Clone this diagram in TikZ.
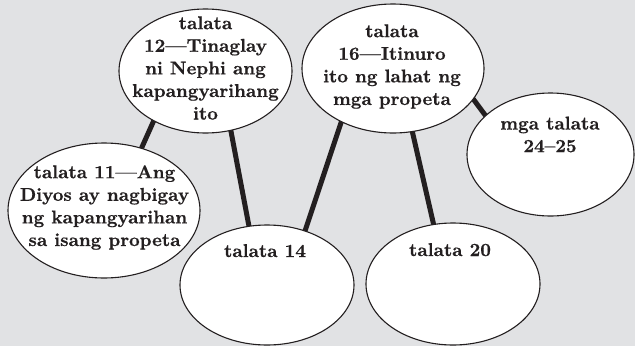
\documentclass[tikz,border=0pt]{standalone}
\usepackage{fontspec}
\newfontfamily\lblfont{lmroman10-bold}[Extension=.otf, FakeBold=0.6]
\usetikzlibrary{shapes.geometric}
\definecolor{bggray}{RGB}{225,226,228}
\definecolor{ink}{RGB}{35,31,32}
\pgfdeclarelayer{back}
\pgfdeclarelayer{links}
\pgfsetlayers{back,links,main}
\tikzset{
  bubble/.style={ellipse, draw=ink, line width=1.1pt, fill=white, inner sep=0pt},
  lbl/.style={font=\lblfont\fontsize{18.5}{22.6}\selectfont, text=ink, align=center, inner sep=0pt},
  link/.style={draw=ink, line width=5pt, shorten <=-3pt, shorten >=-3pt}
}
\begin{document}
\begin{tikzpicture}[x=1pt,y=-1pt]
\useasboundingbox (0,0) rectangle (635,346);
\begin{pgfonlayer}{back}
\fill[bggray] (0,0) rectangle (635,346);
\end{pgfonlayer}
% ellipses
\node[bubble, minimum width=173pt, minimum height=124pt] (A) at (205.5,71) {};
\node[bubble, minimum width=182pt, minimum height=129pt] (B) at (393,68.5) {};
\node[bubble, minimum width=167pt, minimum height=123pt] (C) at (550.5,154.5) {};
\node[bubble, minimum width=192pt, minimum height=135pt] (D) at (104,210.5) {};
\node[bubble, minimum width=174pt, minimum height=120pt] (E) at (267,285) {};
\node[bubble, minimum width=174pt, minimum height=122pt] (F) at (453,284) {};
% texts
\node[lbl] (tA) at (205.5,68) {talata\\12—Tinaglay\\ni Nephi ang\\kapangyarihang\\ito};
\node[lbl] (tB) at (392,66.5) {talata\\16—Itinuro\\ito ng lahat ng\\mga propeta};
\node[lbl] (tC) at (550,134.5) {mga talata\\24–25};
\node[lbl] (tD) at (104.5,207.5) {talata 11—Ang\\Diyos ay nagbigay\\ng kapangyarihan\\sa isang propeta};
\node[lbl, anchor=base] (tE) at (265,257) {talata 14};
\node[lbl, anchor=base] (tF) at (450,256) {talata 20};
% connectors
\begin{pgfonlayer}{links}
\draw[link] (A.224.2) -- (D.59.1);
\draw[link] (A.-67.5) -- (E.107.9);
\draw[link] (B.226.9) -- (E.55.4);
\draw[link] (B.-73.3) -- (F.108.7);
\draw[link] (B.-21.5) -- (C.149.7);
\end{pgfonlayer}
\end{tikzpicture}
\end{document}
